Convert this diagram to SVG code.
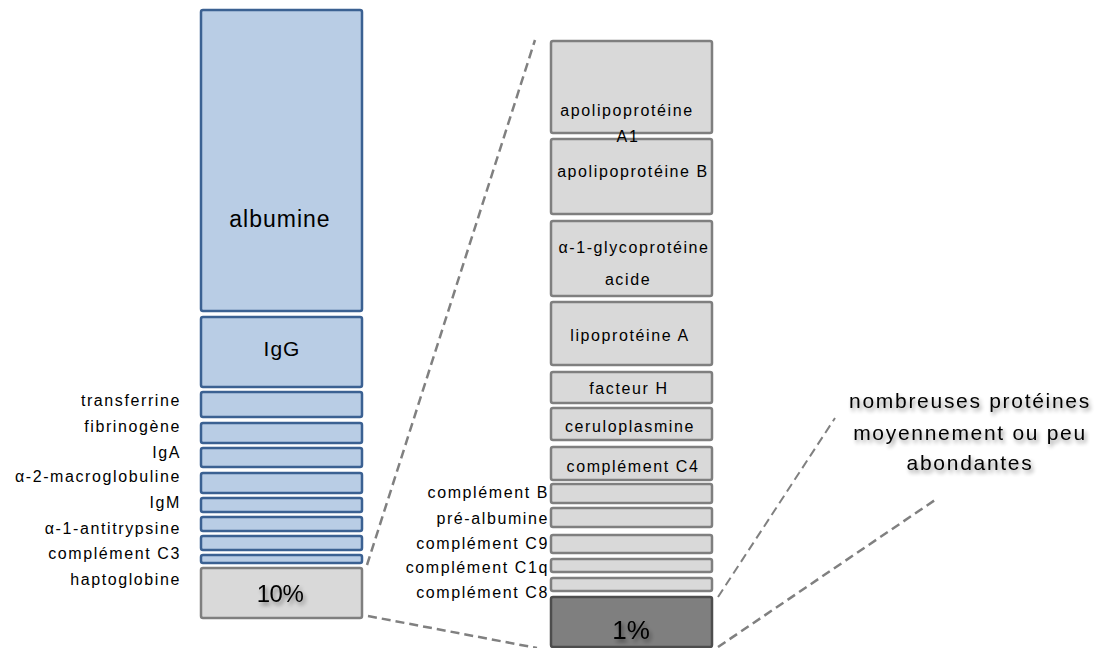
<svg xmlns="http://www.w3.org/2000/svg" width="1104" height="648" viewBox="0 0 1104 648">
<defs>
<style>
.blue{fill:#b9cde5;stroke:#3b6192;stroke-width:2.5}
.grey{fill:#d9d9d9;stroke:#7f7f7f;stroke-width:2.5}
.dark{fill:#7f7f7f;stroke:#4d4d4d;stroke-width:2.5}
.lbl{font-family:"Liberation Sans",Arial,sans-serif;font-size:16px;letter-spacing:1.6px;fill:#000}
.end{text-anchor:end}
.mid{text-anchor:middle}
.big{font-family:"Liberation Sans",Arial,sans-serif;font-size:23px;letter-spacing:1px;fill:#000;text-anchor:middle}
.note{font-family:"Liberation Sans",Arial,sans-serif;font-size:21px;letter-spacing:1.7px;fill:#000;text-anchor:middle}
.dash{fill:none;stroke:#808080;stroke-width:2.5;stroke-dasharray:9 5}
</style>
<filter id="sh" x="-20%" y="-30%" width="150%" height="180%">
<feGaussianBlur in="SourceAlpha" stdDeviation="2"/>
<feOffset dx="2" dy="3" result="o"/>
<feComponentTransfer><feFuncA type="linear" slope="0.45"/></feComponentTransfer>
<feMerge><feMergeNode/><feMergeNode in="SourceGraphic"/></feMerge>
</filter>
</defs>
<rect width="1104" height="648" fill="#fff"/>

<g id="connectors">
<line class="dash" x1="367" y1="565" x2="535" y2="40"/>
<line class="dash" x1="368" y1="616" x2="537" y2="648"/>
<line class="dash" x1="718" y1="597" x2="835" y2="418" style="stroke-width:2"/>
<line class="dash" x1="718" y1="647" x2="935" y2="500"/>
</g>

<g id="albumine"><rect class="blue" x="201" y="10" width="161" height="301" rx="2"/><text class="big" x="280" y="227">albumine</text></g>
<g id="igg"><rect class="blue" x="201" y="317" width="161" height="70" rx="2"/><text class="big" x="282" y="356" style="font-size:21px">IgG</text></g>
<g id="transferrine"><rect class="blue" x="201" y="392" width="161" height="25" rx="2"/><text class="lbl end" x="181" y="406">transferrine</text></g>
<g id="fibrinogene"><rect class="blue" x="201" y="423" width="161" height="20" rx="2"/><text class="lbl end" x="181" y="432">fibrinogène</text></g>
<g id="iga"><rect class="blue" x="201" y="448" width="161" height="19" rx="2"/><text class="lbl end" x="181" y="458">IgA</text></g>
<g id="a2macro"><rect class="blue" x="201" y="473" width="161" height="20" rx="2"/><text class="lbl end" x="181" y="482">α-2-macroglobuline</text></g>
<g id="igm"><rect class="blue" x="201" y="498" width="161" height="14" rx="2"/><text class="lbl end" x="181" y="508">IgM</text></g>
<g id="a1anti"><rect class="blue" x="201" y="517" width="161" height="14" rx="2"/><text class="lbl end" x="181" y="534">α-1-antitrypsine</text></g>
<g id="c3"><rect class="blue" x="201" y="536" width="161" height="14" rx="2"/><text class="lbl end" x="181" y="559">complément C3</text></g>
<g id="haptoglobine"><rect class="blue" x="201" y="555" width="161" height="8" rx="2"/><text class="lbl end" x="181" y="585">haptoglobine</text></g>
<g id="pct10"><rect class="grey" x="201" y="568" width="161" height="50" rx="2"/><text class="big" x="280" y="602" style="font-size:24px;letter-spacing:-0.5px" filter="url(#sh)">10%</text></g>

<g id="apoB"><rect class="grey" x="551" y="139" width="161" height="75" rx="2"/><text class="lbl mid" x="633" y="177">apolipoprotéine B</text></g>
<g id="apoA1"><rect class="grey" x="551" y="41" width="161" height="92" rx="2"/><text class="lbl mid" x="627" y="116">apolipoprotéine</text><text class="lbl mid" x="628" y="142">A1</text></g>
<g id="a1glyco"><rect class="grey" x="551" y="221" width="161" height="75" rx="2"/><text class="lbl mid" x="634" y="253">α-1-glycoprotéine</text><text class="lbl mid" x="628" y="285">acide</text></g>
<g id="lipoA"><rect class="grey" x="551" y="302" width="161" height="63" rx="2"/><text class="lbl mid" x="630" y="341">lipoprotéine A</text></g>
<g id="facteurH"><rect class="grey" x="551" y="372" width="161" height="31" rx="2"/><text class="lbl mid" x="629" y="394">facteur H</text></g>
<g id="cerulo"><rect class="grey" x="551" y="408" width="161" height="32" rx="2"/><text class="lbl mid" x="630" y="432">ceruloplasmine</text></g>
<g id="c4"><rect class="grey" x="551" y="447" width="161" height="33" rx="2"/><text class="lbl mid" x="633" y="472">complément C4</text></g>
<g id="compB"><rect class="grey" x="551" y="484" width="161" height="19" rx="2"/><text class="lbl end" x="549" y="498">complément B</text></g>
<g id="prealb"><rect class="grey" x="551" y="508" width="161" height="19" rx="2"/><text class="lbl end" x="549" y="524">pré-albumine</text></g>
<g id="c9"><rect class="grey" x="551" y="535" width="161" height="18" rx="2"/><text class="lbl end" x="549" y="549">complément C9</text></g>
<g id="c1q"><rect class="grey" x="551" y="559" width="161" height="13" rx="2"/><text class="lbl end" x="549" y="573">complément C1q</text></g>
<g id="c8"><rect class="grey" x="551" y="578" width="161" height="13" rx="2"/><text class="lbl end" x="549" y="598">complément C8</text></g>
<g id="pct1"><rect class="dark" x="551" y="597" width="161" height="50" rx="2"/><text class="big" x="631" y="639" style="font-size:26px;letter-spacing:0" filter="url(#sh)">1%</text></g>

<g id="note" filter="url(#sh)">
<text class="note" x="970" y="408">nombreuses protéines</text>
<text class="note" x="970" y="440">moyennement ou peu</text>
<text class="note" x="970" y="470">abondantes</text>
</g>
</svg>
